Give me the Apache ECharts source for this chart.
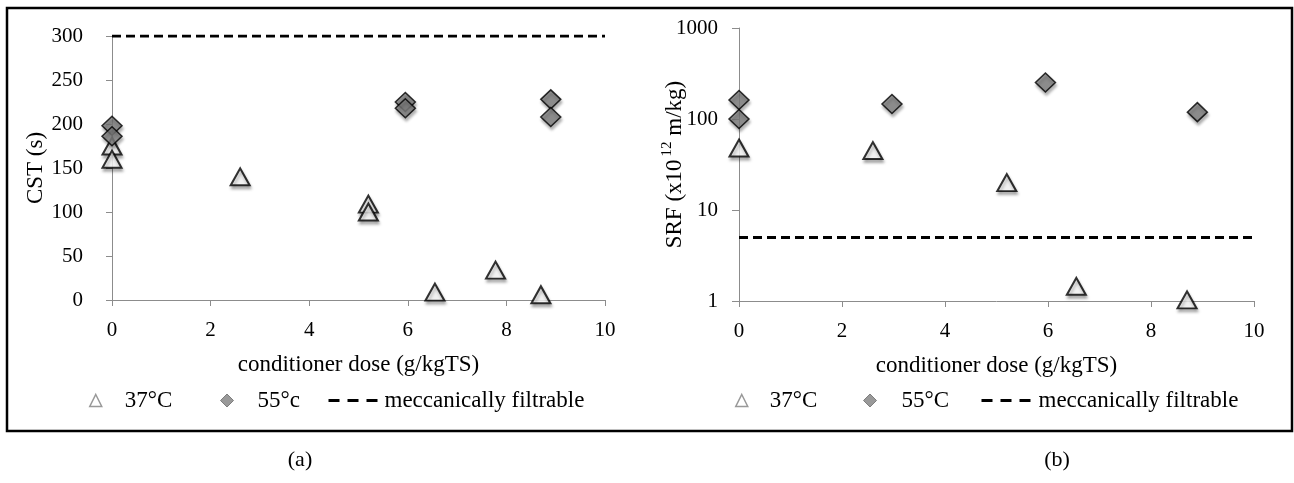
<!DOCTYPE html>
<html>
<head>
<meta charset="utf-8">
<script src="https://cdn.jsdelivr.net/npm/echarts@6/dist/echarts.min.js"></script>
<style>
html,body{margin:0;padding:0;background:#fff;}
#chart{width:1294px;height:483px;}
</style>
</head>
<body>
<div id="chart"></div>
<script>
// ---- Data ----
// Panel (a): CST vs conditioner dose
const cst37x = [0, 0, 2.6, 5.2, 5.2, 6.55, 7.78, 8.7];
const cst37y = [175, 160, 140, 109, 100, 9, 34, 6];
const cst55x = [0, 0, 5.95, 5.95, 8.9, 8.9];
const cst55y = [198, 186, 225, 218, 228, 208];
const cstLimit = 300;

// Panel (b): SRF vs conditioner dose
const srf37x = [0, 2.6, 5.2, 6.55, 8.7];
const srf37y = [48, 45, 20, 1.45, 1.03];
const srf55x = [0, 0, 2.97, 5.95, 8.9];
const srf55y = [162, 100, 146, 252, 119];
const srfLimit = 5;

const limitX = [0, 10];
const seriesNames = ['37°C', '55°c', '55°C', 'meccanically filtrable'];
const axisTitles = ['conditioner dose (g/kgTS)', 'CST (s)'];
const panelLabels = ['(a)', '(b)'];

const pairs = (xs, ys) => xs.map((x, i) => [x, ys[i]]);
const hline = (v) => limitX.map(x => [x, v]);

const FONT = 'Liberation Serif';
const AXC = '#8c8c8c';

const triStyle = {
  color: '#ffffff', borderColor: '#000000', borderWidth: 2,
  shadowBlur: 3, shadowColor: 'rgba(0,0,0,0.35)', shadowOffsetX: 1, shadowOffsetY: 3
};
const diaStyle = {
  color: '#7f7f7f', borderColor: '#000000', borderWidth: 1.5,
  shadowBlur: 3, shadowColor: 'rgba(0,0,0,0.35)', shadowOffsetX: 1, shadowOffsetY: 3
};

function xAxisDef(gi) {
  return {
    gridIndex: gi, type: 'value', min: 0, max: 10, interval: 2,
    name: axisTitles[0], nameLocation: 'middle', nameGap: 53, nameMoveOverlap: false,
    nameTextStyle: {fontFamily: FONT, fontSize: 23, color: '#000'},
    axisLine: {show: true, lineStyle: {color: AXC, width: 1}},
    axisTick: {show: true, length: 6, lineStyle: {color: AXC}},
    axisLabel: {fontFamily: FONT, fontSize: 21, color: '#000', margin: 20},
    splitLine: {show: false}
  };
}

function legendItem(left, name, icon, w, h, padLeft, extra) {
  const d = Object.assign({name: name}, extra || {});
  if (icon) d.icon = icon;
  return {
    left: left, top: 389, padding: 0, itemGap: 0, itemWidth: w, itemHeight: h,
    data: [d],
    textStyle: {fontFamily: FONT, fontSize: 23, color: '#000', padding: [0, 0, 0, padLeft]}
  };
}

const legTri = {itemStyle: {color: '#ffffff', borderColor: '#7f7f7f', borderWidth: 1.5, shadowBlur: 0, shadowOffsetX: 0, shadowOffsetY: 0}};
const legDia = {itemStyle: {color: '#7f7f7f', borderColor: '#6a6a6a', borderWidth: 1, shadowBlur: 0, shadowOffsetX: 0, shadowOffsetY: 0}};
const legLine = {
  itemStyle: {color: 'rgba(0,0,0,0)', borderColor: 'rgba(0,0,0,0)', borderWidth: 0, opacity: 0},
  lineStyle: {type: [11, 8], width: 3, color: '#000'}
};

const option = {
  animation: false,
  backgroundColor: '#fff',
  textStyle: {fontFamily: FONT},
  graphic: [{
    type: 'rect', shape: {x: 7, y: 8, width: 1285, height: 423},
    style: {fill: 'none', stroke: '#000', lineWidth: 2.5}, silent: true
  }],
  title: [
    {text: panelLabels[0], left: 300, top: 449, padding: 0, textAlign: 'center',
     textStyle: {fontFamily: FONT, fontSize: 22, fontWeight: 'normal', color: '#000'}},
    {text: panelLabels[1], left: 1057, top: 449, padding: 0, textAlign: 'center',
     textStyle: {fontFamily: FONT, fontSize: 22, fontWeight: 'normal', color: '#000'}}
  ],
  grid: [
    {left: 112, top: 36, width: 493, height: 264},
    {left: 739, top: 28, width: 515, height: 273}
  ],
  xAxis: [xAxisDef(0), xAxisDef(1)],
  yAxis: [
    {
      gridIndex: 0, type: 'value', min: 0, max: 300, interval: 50,
      name: axisTitles[1], nameLocation: 'middle', nameGap: 65, nameRotate: 90, nameMoveOverlap: false,
      nameTextStyle: {fontFamily: FONT, fontSize: 23, color: '#000'},
      axisLine: {show: true, lineStyle: {color: AXC, width: 1}},
      axisTick: {show: true, length: 6, lineStyle: {color: AXC}},
      axisLabel: {fontFamily: FONT, fontSize: 21, color: '#000', margin: 29},
      splitLine: {show: false}
    },
    {
      gridIndex: 1, type: 'log', logBase: 10, min: 1, max: 1000,
      name: '{n|SRF (x10}{s|12}{n| m/kg)}', nameLocation: 'middle', nameGap: 53, nameRotate: 90,
      nameMoveOverlap: false,
      nameTextStyle: {
        fontFamily: FONT, fontSize: 23, color: '#000',
        rich: {
          n: {fontFamily: FONT, fontSize: 23, color: '#000', lineHeight: 26, verticalAlign: 'bottom'},
          s: {fontFamily: FONT, fontSize: 15, color: '#000', lineHeight: 26, verticalAlign: 'top', padding: [0, 0, 0, 3]}
        }
      },
      axisLine: {show: true, lineStyle: {color: AXC, width: 1}},
      axisTick: {show: true, length: 7, lineStyle: {color: AXC}},
      axisLabel: {fontFamily: FONT, fontSize: 21, color: '#000', margin: 21,
                  formatter: (v) => String(Math.round(v))},
      splitLine: {show: false}, minorTick: {show: false}
    }
  ],
  legend: [
    legendItem(89, seriesNames[0], 'triangle', 12, 12, 18, legTri),
    legendItem(220, seriesNames[1], 'diamond', 13, 13, 19, legDia),
    legendItem(327, seriesNames[3], null, 50, 14, 1, legLine),
    legendItem(735, seriesNames[0], 'triangle', 12, 12, 17, legTri),
    legendItem(863, seriesNames[2], 'diamond', 13, 13, 20, legDia),
    legendItem(980, seriesNames[3], null, 50, 14, 2, legLine)
  ],
  series: [
    {name: seriesNames[3], type: 'line', xAxisIndex: 0, yAxisIndex: 0, data: hline(cstLimit),
     symbol: 'none', lineStyle: {color: '#000', width: 3, type: [9, 5]}, itemStyle: {color: '#000'}, z: 1},
    {name: seriesNames[0], type: 'scatter', xAxisIndex: 0, yAxisIndex: 0, data: pairs(cst37x, cst37y),
     symbol: 'triangle', symbolSize: [19, 17], itemStyle: triStyle, z: 3},
    {name: seriesNames[1], type: 'scatter', xAxisIndex: 0, yAxisIndex: 0, data: pairs(cst55x, cst55y),
     symbol: 'diamond', symbolSize: [20, 19], itemStyle: diaStyle, z: 4},
    {name: seriesNames[3], type: 'line', xAxisIndex: 1, yAxisIndex: 1, data: hline(srfLimit),
     symbol: 'none', lineStyle: {color: '#000', width: 3, type: [9, 5]}, itemStyle: {color: '#000'}, z: 1},
    {name: seriesNames[0], type: 'scatter', xAxisIndex: 1, yAxisIndex: 1, data: pairs(srf37x, srf37y),
     symbol: 'triangle', symbolSize: [19, 17], itemStyle: triStyle, z: 3},
    {name: seriesNames[2], type: 'scatter', xAxisIndex: 1, yAxisIndex: 1, data: pairs(srf55x, srf55y),
     symbol: 'diamond', symbolSize: [20, 19], itemStyle: diaStyle, z: 4}
  ]
};

const chart = echarts.init(document.getElementById('chart'), null, {renderer: 'canvas'});
chart.setOption(option);
</script>
</body>
</html>
